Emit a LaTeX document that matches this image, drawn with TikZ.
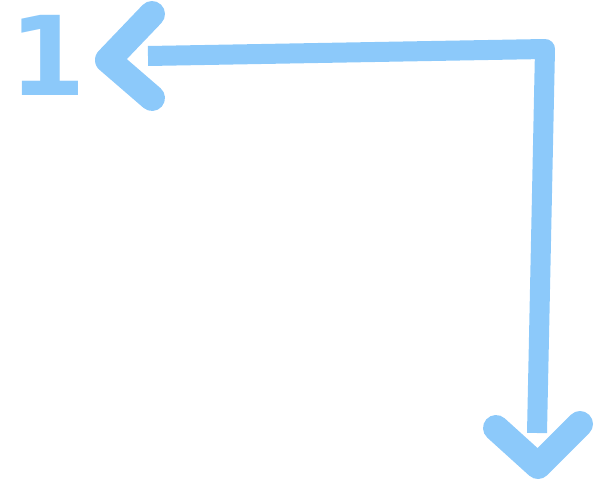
\documentclass[tikz,border=0pt]{standalone}
\usepackage{fontspec}
\newfontfamily\digitfont{DejaVu Sans}
\usetikzlibrary{positioning}
\definecolor{skyblue}{HTML}{8CC9FA}

\begin{document}
\begin{tikzpicture}[
  x=1pt, y=-1pt,
  stroke/.style={draw=skyblue, line width=20pt, line cap=butt, line join=round},
  chevron/.style={draw=skyblue, line width=26pt, line cap=round, line join=round},
  label/.style={text=skyblue, font=\digitfont\bfseries\fontsize{110}{110}\selectfont, inner sep=0pt}
]
\useasboundingbox (0,0) rectangle (610,500);

\node[label] (one) at (48,55) {1};

\coordinate (start) at (148,56);
\coordinate (corner) at (545,49);
\coordinate (stop) at (537,433);

% left arrowhead
\coordinate (ltop) at (152,14);
\coordinate (ltip) at (108,60);
\coordinate (lbot) at (152,98);

% bottom arrowhead
\coordinate (bleft) at (496,428);
\coordinate (btip) at (538,466);
\coordinate (bright) at (580,424);

\path[stroke] (start) -- (corner) -- (stop);
\path[chevron] (ltop) -- (ltip) -- (lbot);
\path[chevron] (bleft) -- (btip) -- (bright);

\end{tikzpicture}
\end{document}
